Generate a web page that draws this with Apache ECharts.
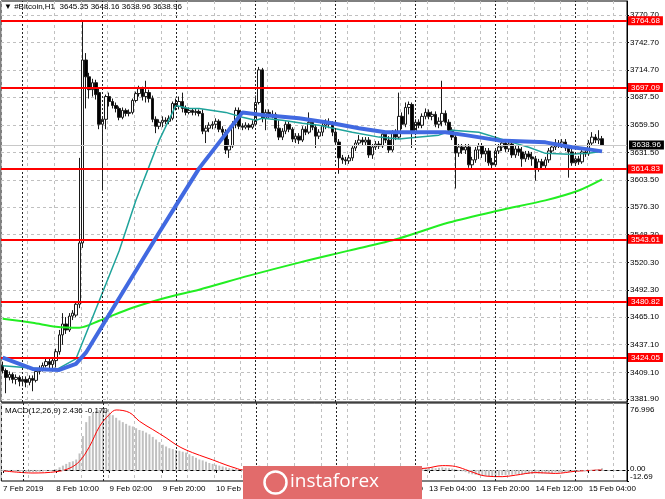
<!DOCTYPE html>
<html><head><meta charset="utf-8">
<script src="https://cdn.jsdelivr.net/npm/echarts@6/dist/echarts.min.js"></script>
<style>html,body{margin:0;padding:0;background:#fff}#c{width:665px;height:499px}</style>
</head><body><div id="c"></div>
<script>
// ---------- data ----------
const titleText = '\u25BC #Bitcoin,H1  3645.35 3648.16 3638.96 3638.96';
const macdText = 'MACD(12,26,9) 2.436 -0.170';
const timeLabels = ['7 Feb 2019','8 Feb 10:00','9 Feb 02:00','9 Feb 20:00','10 Feb 12:00','11 Feb 04:00','11 Feb 20:00','12 Feb 12:00','13 Feb 04:00','13 Feb 20:00','14 Feb 12:00','15 Feb 04:00'];
const dayStarts = [6, 30, 52, 76, 100, 124, 148, 172];

const opens = [3416,3411,3404,3407,3402,3404,3400,3402,3399,3403,3401,3410,3413,3416,3420,3417,3421,3430,3447,3458,3452,3466,3467,3478,3540,3725,3708,3695,3702,3692,3660,3665,3688,3683,3679,3676,3667,3674,3671,3672,3684,3691,3696,3688,3692,3686,3665,3658,3662,3664,3663,3666,3681,3678,3683,3676,3672,3674,3672,3673,3671,3653,3656,3659,3660,3663,3655,3652,3634,3638,3660,3674,3658,3657,3659,3657,3660,3682,3715,3666,3672,3669,3670,3656,3647,3653,3660,3655,3645,3648,3644,3655,3652,3662,3657,3648,3652,3659,3662,3660,3652,3642,3626,3624,3623,3626,3636,3641,3644,3642,3644,3629,3637,3640,3638,3650,3644,3634,3651,3647,3668,3660,3677,3680,3652,3662,3659,3668,3672,3668,3670,3660,3663,3671,3662,3654,3647,3631,3637,3634,3637,3619,3624,3634,3638,3630,3633,3621,3619,3633,3637,3641,3635,3640,3629,3635,3632,3625,3630,3627,3625,3615,3622,3618,3624,3633,3637,3641,3639,3642,3636,3632,3621,3625,3622,3632,3630,3641,3647,3644,3645.35];
const closes = [3411,3404,3407,3402,3404,3400,3402,3399,3403,3401,3410,3413,3416,3420,3417,3421,3430,3447,3458,3452,3466,3469,3478,3540,3725,3708,3695,3702,3690,3660,3665,3688,3683,3679,3676,3667,3674,3671,3672,3684,3691,3696,3688,3692,3686,3665,3658,3662,3664,3663,3666,3681,3678,3683,3676,3672,3674,3672,3673,3671,3653,3656,3659,3660,3663,3655,3652,3634,3638,3660,3674,3658,3657,3659,3657,3660,3682,3715,3666,3672,3669,3670,3656,3647,3653,3660,3655,3645,3648,3644,3655,3652,3662,3657,3648,3652,3659,3662,3660,3652,3642,3626,3624,3623,3626,3636,3641,3644,3642,3644,3629,3637,3640,3638,3650,3644,3634,3651,3647,3668,3660,3677,3680,3652,3662,3659,3668,3672,3668,3670,3660,3663,3671,3662,3654,3647,3631,3637,3634,3637,3619,3624,3634,3638,3630,3633,3621,3619,3633,3637,3641,3635,3640,3629,3635,3632,3625,3630,3627,3625,3615,3622,3618,3624,3633,3637,3641,3639,3642,3636,3632,3621,3625,3622,3632,3630,3641,3647,3644,3645.35,3638.96];
const lows = [3408,3388,3401,3398,3397,3395,3395,3394,3396,3390,3399,3407,3410,3414,3411,3410,3414,3427,3437,3448,3450,3462,3465,3474,3535,3676,3686,3688,3685,3655,3593,3655,3678,3676,3672,3664,3665,3668,3668,3670,3682,3688,3684,3682,3682,3662,3651,3655,3657,3660,3660,3664,3674,3675,3672,3669,3670,3669,3669,3668,3650,3641,3652,3655,3656,3652,3645,3630,3626,3636,3656,3655,3654,3655,3654,3655,3658,3680,3662,3654,3666,3666,3653,3644,3644,3650,3652,3642,3641,3640,3642,3649,3650,3654,3636,3645,3648,3655,3656,3648,3639,3610,3620,3619,3620,3623,3633,3638,3639,3639,3626,3625,3634,3635,3636,3641,3631,3632,3644,3645,3655,3657,3670,3636,3649,3656,3656,3665,3665,3664,3657,3656,3658,3659,3651,3644,3595,3627,3630,3630,3616,3615,3621,3625,3626,3622,3618,3615,3617,3630,3633,3632,3632,3626,3626,3628,3617,3622,3624,3618,3603,3612,3615,3615,3621,3630,3634,3636,3636,3633,3606,3618,3618,3619,3620,3627,3628,3638,3641,3640,3638.96];
const highs = [3420,3413,3410,3409,3407,3406,3405,3405,3406,3406,3412,3416,3419,3423,3423,3423,3433,3452,3469,3465,3469,3472,3481,3626,3764.5,3732,3712,3706,3705,3697,3668,3690,3692,3686,3682,3678,3677,3676,3675,3686,3693,3699,3698,3704,3695,3689,3668,3665,3668,3667,3669,3683,3686,3688,3692,3679,3677,3676,3676,3675,3675,3659,3662,3663,3666,3665,3658,3655,3645,3663,3677,3677,3661,3662,3661,3664,3689,3718,3717,3675,3675,3674,3672,3664,3656,3663,3663,3657,3651,3651,3658,3658,3672,3665,3660,3655,3662,3665,3666,3663,3654,3645,3629,3627,3629,3638,3644,3649,3647,3647,3647,3640,3643,3643,3653,3653,3648,3654,3655,3692,3672,3682,3683,3682,3665,3665,3671,3676,3675,3673,3673,3667,3704,3674,3665,3657,3650,3640,3640,3640,3640,3627,3637,3641,3641,3636,3636,3626,3636,3640,3645,3645,3644,3643,3638,3638,3637,3633,3633,3632,3628,3625,3625,3627,3636,3640,3645,3644,3645,3645,3639,3635,3628,3628,3635,3635,3644,3652,3650,3654,3648.16];

const priceTicks = [3770.70,3742.70,3714.70,3687.50,3659.50,3631.50,3603.50,3576.30,3548.30,3520.30,3492.30,3465.10,3437.10,3409.10,3381.90];
const levels = [3764.68, 3697.09, 3614.83, 3543.61, 3480.82, 3424.05];
const lastPrice = 3638.96;

// moving averages: [bar index, price]
const maBlue = [[0,3424],[9,3412.6],[17,3411.6],[22,3417.7],[25,3429],[47,3550.5],[53,3583],[59,3615.4],[72,3672],[79,3669],[89,3666],[99,3661],[107,3656],[115,3652],[124,3652],[133,3652],[139,3649],[149,3643.7],[163,3641.7],[171,3636.7],[176,3634.6],[180,3632.6]];
const maTeal = [[0,3415.7],[16,3411.6],[22,3422.7],[35,3532],[40,3583],[47,3643.7],[52,3679],[56,3676],[59,3676],[67,3672],[72,3667],[76,3664],[78,3666],[84,3664],[90,3661],[95,3659],[105,3652],[113,3647],[119,3645],[122,3646],[131,3649],[135,3654],[143,3652],[153,3641.7],[158,3636.7],[163,3630.6],[170,3629.6],[176,3630.6],[180,3632.6]];
const maGreen = [[0,3463.3],[9,3459.2],[16,3455.2],[23,3454.2],[29,3461.3],[39,3474.4],[49,3484.6],[59,3492.7],[74,3506.9],[89,3520.1],[104,3532.2],[119,3544.5],[134,3560.6],[149,3572.8],[163,3583],[173,3593],[180,3604.2]];

const macdHist = [-0.5,-1,-1.2,-1.5,-1.8,-2,-2.2,-2.4,-2.5,-2.5,-2.3,-2,-1.8,-1.5,-1,-0.5,
 1,3,5,7,9,10,12,
 19,39,55,62,66,68,69,70,69,
 66,63,60,57,55,53,51,50,48,46,45,43,41,38,35,32,
 29,27,25,24,23,22,21,20,18,16,14,12,11,9.5,8,7,6,5,4,3,2,1.5,1,0.5,
 0,0.5,1,1.5,3,5,4.5,4,3.5,
 3,2.5,2,1.5,1,0.5,0,-0.5,-1,-1,-0.5,0,0.5,1,1,1.5,1.5,1,0.5,0,
 -1,-2,-2.5,-2.5,-2,-1.5,-1,-0.5,-0.5,-1,-1,-0.5,-0.5,0,0,0,0.5,1.5,2,2.5,3,2.5,1.5,
 1.5,2,2,2.5,2.5,2.5,2,2.5,3,2.5,2,1.5,0.5,-1,
 -1.5,-2.5,-4,-5,-5.5,-6,-6.5,-7,-7,
 -7,-6.5,-6.5,-6,-6,-5.5,-5.5,-5,-5,-5,-4.5,-4.5,-4.5,-4,-4,-4,-4,-3.5,-3.5,-3,
 -3,-3,-2.5,-2.5,-2,-2,-1.5,-1.5,-1,-0.5,0,0.5,1,2];
const macdSignal = [[0,-1],[9,-3.5],[16,-2],[20,2],[23,10],[26,27],[29,50],[32,64],[34,69],[38,66],[41,56],[45,46.5],[49,37],[52,29],[55,23],[59,17],[63,11.6],[67,5.8],[70,2],[72,0],[85,1.5],[100,1],[115,0.5],[127,2],[132,5],[136,4],[140,-1],[145,-7],[150,-7.7],[154,-6],[160,-3],[166,-4],[172,-1.5],[180,0]];
const macdMin = -12.69, macdMax = 76.996;
const macdTicks = [macdMin, 0, macdMax];

// ---------- chart ----------
const N = 188;
const cats = Array.from({length: N}, (_, i) => String(i));
const candles = opens.map((o, i) => [o, closes[i], lows[i], highs[i]]);
const FONT = 'Liberation Sans';
const every8 = (i) => i % 8 === 0;
const every16 = (i) => i % 16 === 0;

const chart = echarts.init(document.getElementById('c'), null, {renderer: 'canvas'});

const levelLines = levels.map(v => ({
  yAxis: v,
  lineStyle: {color: '#ff0000', width: 2, type: 'solid'},
  label: {show: true, position: 'end', distance: 1, formatter: v.toFixed(2),
    color: '#fff', backgroundColor: '#ff0000', fontSize: 8, fontFamily: FONT, padding: [1, 3, 0, 3]}
}));
const lastLine = {
  yAxis: lastPrice,
  lineStyle: {color: '#c8c8c8', width: 1, type: 'solid'},
  label: {show: true, position: 'end', distance: 2, formatter: lastPrice.toFixed(2),
    color: '#fff', backgroundColor: '#000', fontSize: 8, fontFamily: FONT, padding: [1, 3, 0, 3]}
};
const daySep = dayStarts.map(d => ({xAxis: d}));

chart.setOption({
  animation: false,
  backgroundColor: '#fff',
  textStyle: {fontFamily: FONT},
  title: [
    {text: titleText, left: 4, top: 3, padding: 0,
      textStyle: {fontSize: 8, fontWeight: 'normal', color: '#000', fontFamily: FONT}},
    {text: macdText, left: 5, top: 407, padding: 0,
      textStyle: {fontSize: 8, fontWeight: 'normal', color: '#000', fontFamily: FONT}}
  ],
  grid: [
    {left: 1, top: 1, width: 626, height: 401, show: true, borderColor: '#000', borderWidth: 1},
    {left: 1, top: 403, width: 626, height: 78, show: true, borderColor: '#000', borderWidth: 1}
  ],
  xAxis: [
    {type: 'category', gridIndex: 0, data: cats, boundaryGap: true,
      axisLine: {show: false}, axisTick: {show: false}, axisLabel: {show: false},
      splitLine: {show: true, interval: every8, lineStyle: {color: '#c0c0c0', type: [3, 3], width: 1}}},
    {type: 'category', gridIndex: 1, data: cats, boundaryGap: true,
      axisLine: {show: true, lineStyle: {color: '#000'}},
      axisTick: {show: true, interval: every16, alignWithLabel: true, length: 3, lineStyle: {color: '#000'}},
      axisLabel: {show: true, interval: every16, align: 'left', margin: 4, fontSize: 8, color: '#000', fontFamily: FONT,
        formatter: (v, idx) => timeLabels[Math.round(Number(v) / 16)] || ''},
      splitLine: {show: true, interval: every8, lineStyle: {color: '#c0c0c0', type: [3, 3], width: 1}}}
  ],
  yAxis: [
    {type: 'value', gridIndex: 0, position: 'right', min: 3379.13, max: 3784.65,
      axisLine: {show: true, lineStyle: {color: '#000'}},
      axisTick: {show: true, length: 2, customValues: priceTicks, lineStyle: {color: '#000'}},
      axisLabel: {show: true, customValues: priceTicks, showMinLabel: true, showMaxLabel: true, margin: 3, fontSize: 8, color: '#000', fontFamily: FONT,
        formatter: v => Number(v).toFixed(2)},
      splitLine: {show: true, lineStyle: {color: '#c0c0c0', type: [3, 3], width: 1}}},
    {type: 'value', gridIndex: 1, position: 'right', min: macdMin, max: macdMax,
      axisLine: {show: true, lineStyle: {color: '#000'}},
      axisTick: {show: true, length: 2, customValues: macdTicks, lineStyle: {color: '#000'}},
      axisLabel: {show: true, customValues: [0, macdMax], showMinLabel: true, showMaxLabel: true, hideOverlap: false,
        margin: 3, fontSize: 8, color: '#000', fontFamily: FONT, padding: [6, 0, 0, 0],
        formatter: v => v === macdMax ? '{t|' + macdMax.toFixed(3) + '}' : '{z|0.00}\n{z|' + macdMin.toFixed(2) + '}',
        rich: {t: {fontSize: 8, fontFamily: FONT, color: '#000', padding: [8, 0, 0, 0]},
               z: {fontSize: 8, fontFamily: FONT, color: '#000', lineHeight: 7.5}}},
      splitLine: {show: false}}
  ],
  series: [
    {type: 'candlestick', xAxisIndex: 0, yAxisIndex: 0, data: candles, barWidth: 3, z: 2,
      itemStyle: {color: '#ffffff', color0: '#000000', borderColor: '#1a1a1a', borderColor0: '#1a1a1a', borderWidth: 1},
      markLine: {silent: true, symbol: 'none', animation: false,
        data: [
          ...daySep.map(d => Object.assign({}, d, {lineStyle: {color: '#222', type: [2, 2], width: 1}, label: {show: false}})),
          lastLine,
          ...levelLines
        ]}},
    {type: 'line', xAxisIndex: 0, yAxisIndex: 0, data: maGreen, showSymbol: false, z: 3,
      lineStyle: {color: '#22ee22', width: 2}, smooth: 0.3},
    {type: 'line', xAxisIndex: 0, yAxisIndex: 0, data: maTeal, showSymbol: false, z: 4,
      lineStyle: {color: '#1fa39b', width: 1.5}},
    {type: 'line', xAxisIndex: 0, yAxisIndex: 0, data: maBlue, showSymbol: false, z: 5,
      lineStyle: {color: '#4169e1', width: 4}},
    {type: 'bar', xAxisIndex: 1, yAxisIndex: 1, data: macdHist, barWidth: 2,
      itemStyle: {color: '#c0c0c0'},
      markLine: {silent: true, symbol: 'none', animation: false,
        data: [
          {yAxis: 0, lineStyle: {color: '#c0c0c0', type: [3, 3], width: 1}, label: {show: false}},
          ...daySep.map(d => Object.assign({}, d, {lineStyle: {color: '#222', type: [2, 2], width: 1}, label: {show: false}}))
        ]}},
    {type: 'line', xAxisIndex: 1, yAxisIndex: 1, data: macdSignal, showSymbol: false, smooth: 0.35,
      lineStyle: {color: '#ff0000', width: 1}}
  ],
  graphic: [
    {type: 'rect', left: 243, top: 466, z: 100, zlevel: 1, shape: {width: 179, height: 33}, style: {fill: '#e26b6b'}},
    {type: 'circle', left: 262, top: 469, z: 101, zlevel: 1, shape: {r: 11}, style: {fill: 'none', stroke: '#fff', lineWidth: 2.5}},
    {type: 'text', left: 290, top: 472, z: 101, zlevel: 1,
      style: {text: 'instaforex', fill: '#fff', fontSize: 19, fontFamily: 'Open Sans'}}
  ]
});
</script></body></html>
